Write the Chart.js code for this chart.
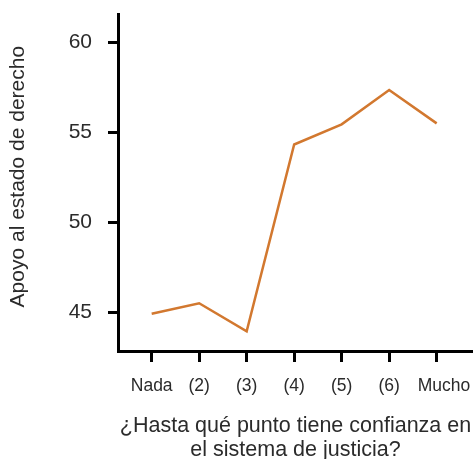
<!DOCTYPE html>
<html>
<head>
<meta charset="utf-8">
<script src="https://cdn.jsdelivr.net/npm/chart.js@4/dist/chart.umd.min.js"></script>
<style>
  html, body { margin: 0; padding: 0; background: #fff; }
  #wrap { width: 473px; height: 459px; position: relative; }
</style>
</head>
<body>
<div id="wrap"><canvas id="apoyoChart"></canvas></div>
<script>
// categorías del eje X
const categorias = ["Nada", "(2)", "(3)", "(4)", "(5)", "(6)", "Mucho"];
// apoyo al estado de derecho
const apoyo = [44.94, 45.52, 43.96, 54.33, 55.45, 57.35, 55.5];
// marcas del eje Y
const ticksY = [45, 50, 55, 60];

const FONT = "'Liberation Sans', Arial, sans-serif";
const TXT = "#2b2b2b";

const ctx = document.getElementById("apoyoChart").getContext("2d");

new Chart(ctx, {
  type: "line",
  data: {
    datasets: [
      {
        label: "Apoyo",
        data: apoyo.map((v, i) => ({ x: i, y: v })),
        borderColor: "#d2782f",
        borderWidth: 2.5,
        pointRadius: 0,
        tension: 0,
        fill: false,
      },
    ],
  },
  options: {
    responsive: true,
    maintainAspectRatio: false,
    animation: false,
    layout: { padding: { top: 14, right: 0, left: 0, bottom: 0 } },
    plugins: {
      legend: { display: false },
      tooltip: { enabled: false },
    },
    scales: {
      x: {
        type: "linear",
        min: -0.709,
        max: 6.765,
        afterBuildTicks: (s) => {
          s.ticks = categorias.map((_, i) => ({ value: i }));
        },
        afterFit: (s) => {
          s.height = 108;
          s.paddingLeft = 0;
          s.paddingRight = 0;
        },
        border: { display: true, color: "#000", width: 3 },
        grid: {
          drawOnChartArea: false,
          drawTicks: true,
          tickLength: 11,
          color: "#000",
          lineWidth: 3,
        },
        ticks: {
          padding: 14,
          color: TXT,
          maxRotation: 0,
          autoSkip: false,
          font: { size: 17.5, family: FONT },
          // la última etiqueta aparece algo desplazada a la derecha en el original
          callback: (v) => (v === categorias.length - 1 ? "   " : "") + categorias[v],
        },
        title: {
          display: true,
          text: ["¿Hasta qué punto tiene confianza en", "el sistema de justicia?"],
          color: TXT,
          font: { size: 21.5, family: FONT, lineHeight: 1.12 },
          padding: { top: 0, bottom: -3 },
        },
      },
      y: {
        min: 42.87,
        max: 61.57,
        afterBuildTicks: (s) => {
          s.ticks = ticksY.map((v) => ({ value: v }));
        },
        afterFit: (s) => {
          s.width = 118;
          s.paddingTop = 0;
          s.paddingBottom = 0;
        },
        border: { display: true, color: "#000", width: 3 },
        grid: {
          drawOnChartArea: false,
          drawTicks: true,
          tickLength: 10,
          color: "#000",
          lineWidth: 3,
        },
        ticks: {
          padding: 16,
          color: TXT,
          font: { size: 21, family: FONT },
        },
        title: {
          display: true,
          text: "  Apoyo al estado de derecho",
          color: TXT,
          font: { size: 21, family: FONT, lineHeight: 1.2 },
          padding: { top: 5.4, bottom: 0 },
        },
      },
    },
  },
});
</script>
</body>
</html>
